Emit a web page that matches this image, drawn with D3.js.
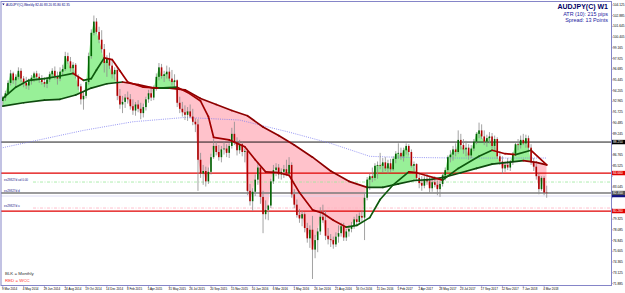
<!DOCTYPE html>
<html>
<head>
<meta charset="utf-8">
<script src="https://cdn.jsdelivr.net/npm/d3@7"></script>
<style>
body { margin: 0; background: #fff; }
svg { display: block; font-family: "Liberation Sans", Arial, sans-serif; }
</style>
</head>
<body>
<div id="chart"></div>
<script>
// AUDJPY weekly bars, first bar = week of 9 Mar 2014
var opens = [93.0,93.4,93.9,95.1,96.2,95.4,95.8,96.5,95.6,95.1,94.8,95.3,95.7,96.2,95.8,95.5,95.2,95.0,95.5,96.1,
  96.5,95.9,95.6,96.4,96.7,98.2,97.6,96.8,97.2,95.9,94.7,93.2,93.6,95.2,98.2,100.9,102.2,101.0,100.1,99.0,
  97.4,97.9,97.1,96.1,96.6,93.6,92.6,92.9,93.4,93.2,92.4,91.9,92.6,92.1,91.6,92.3,93.2,93.9,93.4,94.5,
  95.8,96.9,95.9,96.1,96.4,95.6,95.2,95.4,92.8,92.1,91.7,91.4,91.8,91.2,90.6,90.3,86.2,84.6,84.9,83.7,
  84.8,86.5,87.8,87.1,86.5,87.4,87.5,87.0,87.8,89.2,88.2,87.3,88.0,87.1,87.2,82.6,81.4,82.5,83.9,85.3,
  81.9,79.9,80.4,80.9,83.7,85.0,85.3,84.5,84.8,85.1,84.6,85.6,82.2,81.0,79.8,79.4,79.9,78.3,77.1,78.1,
  75.8,76.9,77.9,79.6,79.2,77.4,77.0,76.9,76.4,77.3,77.7,78.5,77.2,77.9,78.2,78.5,79.3,79.0,79.7,79.5,
  81.8,83.9,84.3,84.1,85.5,85.6,85.5,85.9,85.2,85.8,85.1,86.3,86.9,87.0,86.6,87.3,87.8,87.1,85.5,85.7,
  84.1,83.5,83.2,84.0,83.7,82.9,83.6,83.3,82.8,83.4,84.4,85.0,86.5,86.8,87.4,87.1,88.5,87.9,87.4,87.6,
  86.7,87.5,88.3,89.2,89.6,88.9,88.3,88.7,88.9,87.8,88.6,86.6,86.0,85.2,85.6,85.3,86.0,86.9,88.0,87.9,
  88.5,88.1,88.7,87.6,85.9,85.4,84.3,82.8,84.1,82.4];
var highs = [93.6,94.2,95.4,96.6,96.4,96.1,96.9,96.8,95.9,95.8,95.6,96.0,96.4,96.5,96.2,96.0,95.7,95.8,96.4,96.8,
  97.0,96.4,96.9,97.2,98.7,98.6,98.1,97.5,97.4,96.1,95.0,94.1,95.5,98.6,101.3,102.9,102.6,101.6,101.2,99.6,
  98.3,98.6,97.7,96.9,97.0,94.4,93.6,93.8,94.1,93.8,93.2,92.9,93.1,92.8,92.7,93.5,94.3,94.5,94.8,96.2,
  97.4,97.3,96.5,97.1,96.9,96.6,96.1,95.5,93.5,92.9,92.5,92.3,92.6,92.1,91.0,90.9,87.0,85.6,85.4,85.3,
  86.9,88.6,88.3,87.9,87.8,88.3,88.0,88.1,89.9,90.6,88.8,88.5,88.3,87.5,87.5,83.4,82.9,84.5,85.9,85.5,
  82.6,81.5,81.0,84.0,85.6,85.8,85.7,85.2,85.6,86.2,86.5,85.9,82.8,81.6,80.5,80.3,80.1,78.9,78.6,79.7,
  77.5,78.3,80.7,81.0,80.3,78.3,77.6,77.3,77.8,78.6,78.9,78.9,78.2,78.6,79.0,79.6,79.9,80.1,80.3,82.3,
  84.2,84.6,85.3,85.8,86.0,87.0,86.4,86.5,86.2,86.3,86.6,87.2,88.1,87.6,87.6,88.1,88.0,87.4,86.0,85.8,
  84.6,84.3,84.3,84.7,84.2,84.0,84.3,83.8,83.7,84.7,85.3,86.7,87.3,87.8,88.1,89.6,89.2,88.6,88.4,88.0,
  87.9,88.6,89.4,90.5,90.3,89.6,89.1,89.4,89.3,89.0,88.8,87.2,86.6,86.0,86.4,86.2,87.1,88.2,88.6,89.0,
  89.2,89.1,89.0,88.0,86.4,85.7,84.6,84.3,84.3,83.2];
var lows = [92.4,93.0,93.7,94.8,95.0,94.7,95.5,95.2,94.6,94.4,94.3,94.9,95.2,95.4,95.1,94.9,94.6,94.5,95.2,95.7,
  95.5,94.9,95.3,96.0,96.5,97.3,96.4,96.0,95.6,94.3,92.6,92.0,93.3,94.9,97.9,100.6,100.8,99.7,98.6,96.3,
  95.8,96.7,95.6,95.4,93.1,92.1,91.6,92.2,92.7,92.0,91.4,91.3,91.7,90.9,91.1,91.9,92.8,93.0,93.1,94.2,
  95.4,95.6,95.2,95.6,95.3,94.8,94.4,92.3,91.6,91.2,90.8,90.7,91.0,90.2,89.4,82.6,84.1,83.3,83.1,83.4,
  84.5,86.3,86.7,86.1,85.9,86.8,86.5,86.4,87.5,87.9,86.7,86.9,86.6,85.9,82.1,80.9,80.3,82.0,83.3,81.1,
  77.7,79.3,79.2,80.6,83.4,84.3,84.0,83.9,84.1,84.3,84.3,81.8,80.6,79.5,78.9,78.5,77.8,76.6,76.0,72.4,
  74.8,75.5,77.5,78.9,76.9,76.4,76.1,75.9,76.1,76.6,77.3,76.8,76.8,77.3,77.8,78.2,78.6,78.8,78.9,76.9,
  81.5,82.7,83.6,83.8,84.0,85.1,84.7,84.9,84.6,84.8,84.9,85.8,86.3,86.2,86.0,86.8,86.7,85.3,84.9,83.8,
  82.9,82.6,82.9,83.3,82.4,82.5,83.0,82.1,81.9,83.1,83.8,84.8,85.9,86.1,86.6,86.9,87.4,86.9,86.6,86.2,
  86.4,87.2,88.0,88.7,88.6,87.9,87.7,88.1,87.5,87.3,86.3,85.6,84.6,84.8,85.0,84.9,85.6,86.7,87.3,87.5,
  87.9,87.6,87.2,85.6,84.9,83.9,82.2,82.6,82.1,81.8];
var closes = [93.4,93.9,95.1,96.2,95.4,95.8,96.5,95.6,95.1,94.8,95.3,95.7,96.2,95.8,95.5,95.2,95.0,95.5,96.1,96.5,
  95.9,95.6,96.4,96.7,98.2,97.6,96.8,97.2,95.9,94.7,93.2,93.6,95.2,98.2,100.9,102.2,101.0,100.1,99.0,97.4,
  97.9,97.1,96.1,96.6,93.6,92.6,92.9,93.4,93.2,92.4,91.9,92.6,92.1,91.6,92.3,93.2,93.9,93.4,94.5,95.8,
  96.9,95.9,96.1,96.4,95.6,95.2,95.4,92.8,92.1,91.7,91.4,91.8,91.2,90.6,90.3,86.2,84.6,84.9,83.7,84.8,
  86.5,87.8,87.1,86.5,87.4,87.5,87.0,87.8,89.2,88.2,87.3,88.0,87.1,87.2,82.6,81.4,82.5,83.9,85.3,81.9,
  79.9,80.4,80.9,83.7,85.0,85.3,84.5,84.8,85.1,84.6,85.6,82.2,81.0,79.8,79.4,79.9,78.3,77.1,78.1,75.8,
  76.9,77.9,79.6,79.2,77.4,77.0,76.9,76.4,77.3,77.7,78.5,77.2,77.9,78.2,78.5,79.3,79.0,79.7,79.5,81.8,
  83.9,84.3,84.1,85.5,85.6,85.5,85.9,85.2,85.8,85.1,86.3,86.9,87.0,86.6,87.3,87.8,87.1,85.5,85.7,84.1,
  83.5,83.2,84.0,83.7,82.9,83.6,83.3,82.8,83.4,84.4,85.0,86.5,86.8,87.4,87.1,88.5,87.9,87.4,87.6,86.7,
  87.5,88.3,89.2,89.6,88.9,88.3,88.7,88.9,87.8,88.6,86.6,86.0,85.2,85.6,85.3,86.0,86.9,88.0,87.9,88.5,
  88.1,88.7,87.6,85.9,85.4,84.3,82.8,84.1,82.4,82.35];

// moving averages as [bar, value]
var monthlyMA = [[0,92.4],[8,92.8],[16,93.1],[22,93.2],[28,93.7],[34,94.5],[40,95.0],[46,95.2],[52,94.9],
  [58,94.5],[64,94.5],[70,94.3],[76,93.3],[82,92.6],[88,91.9],[94,91.3],[100,90.0],[106,89.0],[112,87.9],
  [119,86.5],[126,84.9],[133,83.7],[140,83.0],[146,83.0],[152,83.4],[158,83.8],[164,83.9],[170,84.2],
  [176,84.7],[182,85.2],[188,85.7],[194,85.9],[200,86.1],[205,85.9],[209,85.6]];
var wccMA = [[0,93.3],[5,94.6],[10,95.4],[16,95.6],[22,95.9],[27,96.2],[31,95.4],[34,95.6],[36,96.6],
  [39,98.0],[42,97.8],[45,96.5],[48,95.2],[54,94.6],[60,94.5],[67,94.6],[71,94.0],[76,93.0],[79,91.2],
  [81,88.8],[87,88.5],[93,87.7],[97,86.2],[101,84.8],[106,84.7],[110,84.4],[114,82.4],[119,80.4],
  [123,80.0],[127,79.2],[132,78.4],[136,78.6],[141,79.5],[145,81.6],[150,83.3],[156,84.8],[159,84.7],
  [169,83.85],[175,85.2],[183,86.6],[188,87.3],[193,86.9],[197,86.8],[203,87.3],[209,85.6]];
var longMA = [[0,87.6],[31,89.6],[50,90.6],[70,91.1],[91,90.8],[110,89.4],[126,88.1],[141,86.6],
  [150,86.5],[175,86.4],[209,86.4]];

// horizontal levels drawn on the chart
var blackLevel = 88.25;
var redLevels = [84.66, 80.26];
var greenDashLevel = 83.62;
var pinkDashLevel = 80.61;

var tickBars = [0,8,16,24,32,40,48,56,64,72,80,88,96,104,112,120,128,136,144,152,160,168,176,184,192,200,208];
var tickLabels = ["9 Mar 2014","4 May 2014","29 Jun 2014","24 Aug 2014","19 Oct 2014","14 Dec 2014",
  "8 Feb 2015","5 Apr 2015","31 May 2015","26 Jul 2015","20 Sep 2015","15 Nov 2015","10 Jan 2016",
  "6 Mar 2016","1 May 2016","26 Jun 2016","21 Aug 2016","16 Oct 2016","11 Dec 2016","5 Feb 2017",
  "2 Apr 2017","28 May 2017","23 Jul 2017","17 Sep 2017","12 Nov 2017","7 Jan 2018","4 Mar 2018"];
var priceTicks = [104.125,102.885,101.645,100.405,99.165,97.925,96.685,95.445,94.205,92.965,91.725,
  90.485,89.245,88.005,86.765,85.525,84.285,83.045,81.805,80.565,79.325,78.085,76.845,75.605,74.365,
  73.125,71.885];

var W = 625, H = 293;
var plot = { left: 1, top: 1.5, right: 611.5, bottom: 285.5 };

var svg = d3.select("#chart").append("svg")
    .attr("width", W)
    .attr("height", H);

var x = d3.scaleLinear().domain([0, closes.length - 1]).range([2.8, 546.7]);
var y = d3.scaleLinear().domain([71.70, 104.35]).range([285, 3]);

var idx = d3.range(closes.length);
var last = closes.length - 1;

// clip regions above / below the close line
var defs = svg.append("defs");
defs.append("clipPath").attr("id", "plotClip").append("rect")
    .attr("x", plot.left).attr("y", plot.top)
    .attr("width", plot.right - plot.left).attr("height", plot.bottom - plot.top);
defs.append("clipPath").attr("id", "aboveClose").append("path")
    .attr("d", d3.area().x(function (i) { return x(i); })
        .y0(plot.top).y1(function (i) { return y(closes[i]); })(idx));
defs.append("clipPath").attr("id", "belowClose").append("path")
    .attr("d", d3.area().x(function (i) { return x(i); })
        .y0(plot.bottom).y1(function (i) { return y(closes[i]); })(idx));

var g = svg.append("g").attr("clip-path", "url(#plotClip)");

// green where close is above the monthly line, pink where below
g.append("path")
    .attr("clip-path", "url(#belowClose)")
    .attr("fill", "#98f098")
    .attr("d", d3.area().x(function (d) { return x(d[0]); })
        .y0(function (d) { return y(d[1]); }).y1(plot.top)(monthlyMA));
g.append("path")
    .attr("clip-path", "url(#aboveClose)")
    .attr("fill", "#ffc2cb")
    .attr("d", d3.area().x(function (d) { return x(d[0]); })
        .y0(function (d) { return y(d[1]); }).y1(plot.bottom)(monthlyMA));

// horizontal levels
function hline(price, x0, color, width, dash) {
    g.append("line")
        .attr("x1", x0).attr("x2", plot.right)
        .attr("y1", y(price)).attr("y2", y(price))
        .attr("stroke", color)
        .attr("stroke-width", width)
        .attr("stroke-dasharray", dash || null);
}
hline(blackLevel, plot.left, "#000", 0.9);
redLevels.forEach(function (p) { hline(p, plot.left, "#e00000", 1.2); });
hline(greenDashLevel, 33, "#9be89b", 0.8, "3,1.5,1,1.5");
hline(pinkDashLevel, 33, "#ffb0c0", 0.8, "3,1.5,1,1.5");
hline(closes[last], plot.left, "#7a7a7a", 1.6);
hline(closes[last] - 0.35, plot.left, "#d6d6f2", 0.8);

// long dotted average
g.append("path")
    .datum(longMA)
    .attr("fill", "none")
    .attr("stroke", "#7b7bf0")
    .attr("stroke-width", 0.8)
    .attr("stroke-dasharray", "1,1.2")
    .attr("d", d3.line().x(function (d) { return x(d[0]); }).y(function (d) { return y(d[1]); }));

// candles
var candle = g.append("g").selectAll("g")
    .data(idx)
    .enter().append("g");
candle.append("line")
    .attr("x1", function (i) { return x(i); })
    .attr("x2", function (i) { return x(i); })
    .attr("y1", function (i) { return y(highs[i]); })
    .attr("y2", function (i) { return y(lows[i]); })
    .attr("stroke", "#8c8c8c")
    .attr("stroke-width", 0.8);
candle.append("rect")
    .attr("x", function (i) { return x(i) - 0.8; })
    .attr("width", 1.6)
    .attr("y", function (i) { return y(Math.max(opens[i], closes[i])); })
    .attr("height", function (i) { return Math.max(0.6, Math.abs(y(opens[i]) - y(closes[i]))); })
    .attr("fill", function (i) { return closes[i] >= opens[i] ? "#006400" : "#b00000"; });

// moving average lines, coloured by direction
function maLine(samples, up, down, width) {
    var line = d3.line().x(function (d) { return x(d[0]); }).y(function (d) { return y(d[1]); });
    var lg = g.append("g");
    for (var k = 0; k < samples.length - 1; k++) {
        lg.append("path")
            .attr("d", line([samples[k], samples[k + 1]]))
            .attr("fill", "none")
            .attr("stroke", samples[k + 1][1] >= samples[k][1] ? up : down)
            .attr("stroke-width", width)
            .attr("stroke-linecap", "round");
    }
}
maLine(monthlyMA, "#0e4a0e", "#8e0000", 1.7);
maLine(wccMA, "#0e5a0e", "#a00000", 1.7);

// frame
svg.append("rect")
    .attr("x", plot.left).attr("y", plot.top)
    .attr("width", plot.right - plot.left).attr("height", plot.bottom - plot.top)
    .attr("fill", "none").attr("stroke", "#8585c8").attr("stroke-width", 1);

// price axis (labels hidden where a price box covers them)
var boxPrices = [blackLevel, redLevels[0], redLevels[1], closes[last], closes[last] - 0.35];
var shownTicks = priceTicks.filter(function (p) {
    return boxPrices.every(function (b) { return Math.abs(y(p) - y(b)) > 4.2; });
});
svg.append("g").selectAll("text")
    .data(shownTicks)
    .enter().append("text")
    .attr("x", 613)
    .attr("y", function (d) { return y(d) + 1.1; })
    .attr("font-size", 3.2)
    .attr("fill", "#000")
    .text(function (d) { return d.toFixed(3); });
svg.append("g").selectAll("line")
    .data(priceTicks)
    .enter().append("line")
    .attr("x1", plot.right).attr("x2", plot.right + 1.5)
    .attr("y1", function (d) { return y(d); }).attr("y2", function (d) { return y(d); })
    .attr("stroke", "#8585c8").attr("stroke-width", 0.6);

// price boxes on the axis
function priceBox(price, color) {
    svg.append("rect")
        .attr("x", 612).attr("y", y(price) - 2.2)
        .attr("width", 13).attr("height", 4.4)
        .attr("fill", color);
    svg.append("text")
        .attr("x", 613).attr("y", y(price) + 1.1)
        .attr("font-size", 3.2).attr("fill", "#fff")
        .text(price.toFixed(3));
}
priceBox(blackLevel, "#000");
redLevels.forEach(function (p) { priceBox(p, "#e00000"); });
priceBox(closes[last], "#555");
svg.append("rect").attr("x", 612).attr("y", y(closes[last] - 0.35) - 1)
    .attr("width", 13).attr("height", 2.2).attr("fill", "#101080");

// time axis
svg.append("g").selectAll("line")
    .data(tickBars)
    .enter().append("line")
    .attr("x1", function (d) { return x(d); }).attr("x2", function (d) { return x(d); })
    .attr("y1", plot.bottom).attr("y2", plot.bottom + 2)
    .attr("stroke", "#8585c8").attr("stroke-width", 0.6);
svg.append("g").selectAll("text")
    .data(tickBars)
    .enter().append("text")
    .attr("x", function (d) { return x(d) - 0.8; })
    .attr("y", 290.2)
    .attr("font-size", 3)
    .attr("fill", "#000")
    .text(function (d, i) { return tickLabels[i]; });

// texts
svg.append("text").attr("x", 6).attr("y", 5.6)
    .attr("font-size", 3.2).attr("fill", "#000080")
    .text("AUDJPY(C),Weekly  82.40 83.20 81.80 82.35");
svg.append("path").attr("d", "M2.2,3.4L4.6,3.4L3.4,5.2Z").attr("fill", "#000080");

svg.append("text").attr("x", 608).attr("y", 9.3)
    .attr("text-anchor", "end").attr("font-size", 7).attr("font-weight", "bold")
    .attr("fill", "#000066").text("AUDJPY(C) W1");
svg.append("text").attr("x", 608).attr("y", 16.4)
    .attr("text-anchor", "end").attr("font-size", 5.4)
    .attr("fill", "#1a1aa0").text("ATR (10): 215 pips");
svg.append("text").attr("x", 608).attr("y", 21.8)
    .attr("text-anchor", "end").attr("font-size", 5.4)
    .attr("fill", "#1a1aa0").text("Spread: 13 Points");

svg.append("text").attr("x", 4).attr("y", 181.4)
    .attr("font-size", 3).attr("fill", "#20208a").text("ex29827d ud 0.00");
svg.append("text").attr("x", 4).attr("y", 191.6)
    .attr("font-size", 3).attr("fill", "#20208a").text("ex29827d d");
svg.append("text").attr("x", 4).attr("y", 207.4)
    .attr("font-size", 3).attr("fill", "#20208a").text("ex29827d u");

svg.append("text").attr("x", 5).attr("y", 275)
    .attr("font-size", 4.4).attr("fill", "#333").text("BLK = Monthly");
svg.append("text").attr("x", 5).attr("y", 281.6)
    .attr("font-size", 4.4).attr("fill", "#ff3030").text("RED = WCC");
</script>
</body>
</html>
